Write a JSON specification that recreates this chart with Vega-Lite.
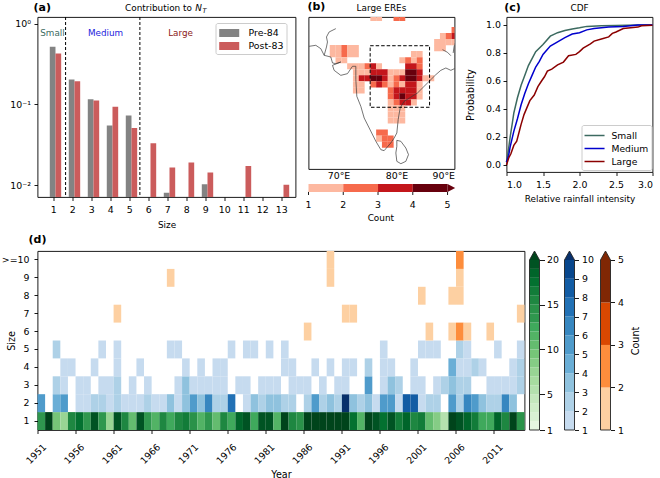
{"$schema":"https://vega.github.io/schema/vega-lite/v6.json","background":"#ffffff","padding":{"left":0.5,"top":0,"right":0,"bottom":0},"spacing":3,"resolve":{"scale":{"color":"independent"}},"config":{"font":"DejaVu Sans","view":{"stroke":"#000","strokeWidth":0.9},"axis":{"domain":false,"grid":false,"tickColor":"#000","tickWidth":0.9,"tickSize":3.5,"labelColor":"#000","labelFontSize":9.4,"labelPadding":2.5,"titleColor":"#000","titleFontSize":8.9,"titleFontWeight":"normal"},"title":{"fontSize":8.9,"fontWeight":"normal","color":"#000","offset":6},"legend":{"title":null,"labelFontSize":9.4,"labelColor":"#000","fillColor":"#fff","strokeColor":"#ccc","cornerRadius":2,"padding":3}},"datasets":{"sizes":[{"period":"Pre-84","size":1,"frac":0.52},{"period":"Pre-84","size":2,"frac":0.205},{"period":"Pre-84","size":3,"frac":0.116},{"period":"Pre-84","size":4,"frac":0.055},{"period":"Pre-84","size":5,"frac":0.073},{"period":"Pre-84","size":7,"frac":0.008},{"period":"Pre-84","size":9,"frac":0.0102},{"period":"Post-83","size":1,"frac":0.43},{"period":"Post-83","size":2,"frac":0.195},{"period":"Post-83","size":3,"frac":0.112},{"period":"Post-83","size":4,"frac":0.094},{"period":"Post-83","size":5,"frac":0.051},{"period":"Post-83","size":6,"frac":0.033},{"period":"Post-83","size":7,"frac":0.0165},{"period":"Post-83","size":8,"frac":0.019},{"period":"Post-83","size":9,"frac":0.0143},{"period":"Post-83","size":11,"frac":0.0172},{"period":"Post-83","size":13,"frac":0.0101}],"cells":[{"lon":76,"lat":30.5,"n":1},{"lon":77,"lat":30.5,"n":1},{"lon":80,"lat":30.5,"n":2},{"lon":81,"lat":30.5,"n":2},{"lon":90,"lat":28.5,"n":2},{"lon":88,"lat":27.5,"n":1},{"lon":89,"lat":27.5,"n":2},{"lon":90,"lat":27.5,"n":3},{"lon":87,"lat":26.5,"n":1},{"lon":88,"lat":26.5,"n":1},{"lon":89,"lat":26.5,"n":1},{"lon":90,"lat":26.5,"n":1},{"lon":87,"lat":25.5,"n":1},{"lon":88,"lat":25.5,"n":1},{"lon":69,"lat":25.5,"n":1},{"lon":70,"lat":25.5,"n":1},{"lon":71,"lat":25.5,"n":2},{"lon":72,"lat":25.5,"n":1},{"lon":73,"lat":25.5,"n":1},{"lon":69,"lat":24.5,"n":1},{"lon":70,"lat":24.5,"n":1},{"lon":71,"lat":24.5,"n":2},{"lon":72,"lat":24.5,"n":1},{"lon":73,"lat":24.5,"n":1},{"lon":83,"lat":24.5,"n":1},{"lon":84,"lat":24.5,"n":1},{"lon":70,"lat":23.5,"n":1},{"lon":71,"lat":23.5,"n":1},{"lon":81,"lat":23.5,"n":1},{"lon":82,"lat":23.5,"n":2},{"lon":83,"lat":23.5,"n":1},{"lon":84,"lat":23.5,"n":2},{"lon":72,"lat":22.5,"n":1},{"lon":73,"lat":22.5,"n":1},{"lon":74,"lat":22.5,"n":1},{"lon":75,"lat":22.5,"n":2},{"lon":76,"lat":22.5,"n":3},{"lon":77,"lat":22.5,"n":1},{"lon":82,"lat":22.5,"n":3},{"lon":83,"lat":22.5,"n":3},{"lon":84,"lat":22.5,"n":2},{"lon":73,"lat":21.5,"n":1},{"lon":74,"lat":21.5,"n":1},{"lon":75,"lat":21.5,"n":1},{"lon":76,"lat":21.5,"n":3},{"lon":77,"lat":21.5,"n":3},{"lon":78,"lat":21.5,"n":3},{"lon":79,"lat":21.5,"n":1},{"lon":80,"lat":21.5,"n":1},{"lon":81,"lat":21.5,"n":1},{"lon":82,"lat":21.5,"n":4},{"lon":83,"lat":21.5,"n":4},{"lon":84,"lat":21.5,"n":3},{"lon":73,"lat":20.5,"n":1},{"lon":74,"lat":20.5,"n":3},{"lon":75,"lat":20.5,"n":3},{"lon":76,"lat":20.5,"n":5},{"lon":77,"lat":20.5,"n":5},{"lon":78,"lat":20.5,"n":3},{"lon":79,"lat":20.5,"n":1},{"lon":80,"lat":20.5,"n":2},{"lon":81,"lat":20.5,"n":3},{"lon":82,"lat":20.5,"n":5},{"lon":83,"lat":20.5,"n":5},{"lon":84,"lat":20.5,"n":3},{"lon":85,"lat":20.5,"n":1},{"lon":86,"lat":20.5,"n":1},{"lon":73,"lat":19.5,"n":1},{"lon":74,"lat":19.5,"n":1},{"lon":76,"lat":19.5,"n":2},{"lon":77,"lat":19.5,"n":3},{"lon":78,"lat":19.5,"n":2},{"lon":79,"lat":19.5,"n":1},{"lon":80,"lat":19.5,"n":2},{"lon":81,"lat":19.5,"n":1},{"lon":82,"lat":19.5,"n":3},{"lon":83,"lat":19.5,"n":3},{"lon":84,"lat":19.5,"n":1},{"lon":73,"lat":18.5,"n":1},{"lon":74,"lat":18.5,"n":1},{"lon":79,"lat":18.5,"n":2},{"lon":80,"lat":18.5,"n":3},{"lon":81,"lat":18.5,"n":3},{"lon":82,"lat":18.5,"n":3},{"lon":83,"lat":18.5,"n":3},{"lon":84,"lat":18.5,"n":1},{"lon":79,"lat":17.5,"n":2},{"lon":80,"lat":17.5,"n":3},{"lon":81,"lat":17.5,"n":5},{"lon":82,"lat":17.5,"n":3},{"lon":83,"lat":17.5,"n":3},{"lon":84,"lat":17.5,"n":1},{"lon":79,"lat":16.5,"n":1},{"lon":80,"lat":16.5,"n":2},{"lon":81,"lat":16.5,"n":3},{"lon":82,"lat":16.5,"n":3},{"lon":83,"lat":16.5,"n":1},{"lon":79,"lat":15.5,"n":1},{"lon":80,"lat":15.5,"n":1},{"lon":81,"lat":15.5,"n":1},{"lon":79,"lat":14.5,"n":1},{"lon":80,"lat":14.5,"n":1},{"lon":81,"lat":14.5,"n":1},{"lon":79,"lat":13.5,"n":1},{"lon":80,"lat":13.5,"n":1},{"lon":81,"lat":13.5,"n":1},{"lon":77,"lat":11.5,"n":2},{"lon":78,"lat":11.5,"n":2},{"lon":77,"lat":10.5,"n":1},{"lon":78,"lat":10.5,"n":2},{"lon":79,"lat":10.5,"n":2},{"lon":78,"lat":9.5,"n":2},{"lon":79,"lat":9.5,"n":2}],"coast":[{"seg":"a","o":1,"lon":69.54,"lat":28.73},{"seg":"a","o":2,"lon":68.39,"lat":28.18},{"seg":"a","o":3,"lon":67.93,"lat":27.35},{"seg":"a","o":4,"lon":68.1,"lat":26.52},{"seg":"a","o":5,"lon":67.93,"lat":25.69},{"seg":"a","o":6,"lon":67.53,"lat":24.31},{"seg":"b","o":1,"lon":64.94,"lat":25.8},{"seg":"b","o":2,"lon":66.09,"lat":25.97},{"seg":"b","o":3,"lon":66.95,"lat":25.41},{"seg":"b","o":4,"lon":67.53,"lat":24.31},{"seg":"b","o":5,"lon":68.68,"lat":24.03},{"seg":"b","o":6,"lon":68.97,"lat":23.04},{"seg":"b","o":7,"lon":69.54,"lat":22.93},{"seg":"b","o":8,"lon":70.4,"lat":23.2},{"seg":"b","o":9,"lon":68.97,"lat":22.65},{"seg":"b","o":10,"lon":69.25,"lat":21.82},{"seg":"b","o":11,"lon":70.4,"lat":20.99},{"seg":"b","o":12,"lon":71.55,"lat":21.27},{"seg":"b","o":13,"lon":72.41,"lat":22.49},{"seg":"b","o":14,"lon":72.99,"lat":22.49},{"seg":"b","o":15,"lon":72.99,"lat":20.28},{"seg":"b","o":16,"lon":73.16,"lat":17.51},{"seg":"b","o":17,"lon":73.85,"lat":15.86},{"seg":"b","o":18,"lon":74.43,"lat":13.92},{"seg":"b","o":19,"lon":75.29,"lat":12.27},{"seg":"b","o":20,"lon":76.44,"lat":10.06},{"seg":"b","o":21,"lon":77.3,"lat":8.67},{"seg":"b","o":22,"lon":77.87,"lat":8.51},{"seg":"b","o":23,"lon":79.02,"lat":9.78},{"seg":"b","o":24,"lon":79.6,"lat":10.61},{"seg":"b","o":25,"lon":80.06,"lat":11.44},{"seg":"b","o":26,"lon":80.29,"lat":13.65},{"seg":"b","o":27,"lon":80.63,"lat":15.58},{"seg":"b","o":28,"lon":81.32,"lat":16.69},{"seg":"b","o":29,"lon":83.62,"lat":18.07},{"seg":"b","o":30,"lon":85.34,"lat":19.72},{"seg":"b","o":31,"lon":86.78,"lat":21.1},{"seg":"b","o":32,"lon":87.64,"lat":21.82},{"seg":"b","o":33,"lon":88.51,"lat":22.21},{"seg":"b","o":34,"lon":89.37,"lat":21.82},{"seg":"b","o":35,"lon":90.23,"lat":22.21},{"seg":"c","o":1,"lon":80.06,"lat":10.22},{"seg":"c","o":2,"lon":80.75,"lat":10.06},{"seg":"c","o":3,"lon":81.61,"lat":8.95},{"seg":"c","o":4,"lon":82.07,"lat":7.85},{"seg":"c","o":5,"lon":81.61,"lat":6.74},{"seg":"c","o":6,"lon":80.75,"lat":6.35},{"seg":"c","o":7,"lon":80.06,"lat":6.74},{"seg":"c","o":8,"lon":79.89,"lat":8.12},{"seg":"c","o":9,"lon":80.06,"lat":9.23},{"seg":"c","o":10,"lon":80.06,"lat":10.22},{"seg":"d","o":1,"lon":87.93,"lat":25.25},{"seg":"d","o":2,"lon":88.79,"lat":24.81},{"seg":"d","o":3,"lon":89.37,"lat":24.25},{"seg":"e","o":1,"lon":89.77,"lat":24.7},{"seg":"e","o":2,"lon":89.94,"lat":25.8},{"seg":"e","o":3,"lon":90.11,"lat":26.35}],"cdf":[{"g":"Small","x":1.0,"p":0.02},{"g":"Small","x":1.03,"p":0.12},{"g":"Small","x":1.05,"p":0.2},{"g":"Small","x":1.08,"p":0.3},{"g":"Small","x":1.1,"p":0.37},{"g":"Small","x":1.15,"p":0.48},{"g":"Small","x":1.2,"p":0.57},{"g":"Small","x":1.25,"p":0.64},{"g":"Small","x":1.3,"p":0.71},{"g":"Small","x":1.35,"p":0.76},{"g":"Small","x":1.4,"p":0.81},{"g":"Small","x":1.5,"p":0.86},{"g":"Small","x":1.6,"p":0.92},{"g":"Small","x":1.7,"p":0.945},{"g":"Small","x":1.8,"p":0.96},{"g":"Small","x":1.9,"p":0.972},{"g":"Small","x":2.0,"p":0.98},{"g":"Small","x":2.1,"p":0.99},{"g":"Small","x":2.3,"p":0.995},{"g":"Small","x":2.5,"p":0.997},{"g":"Small","x":2.8,"p":1},{"g":"Small","x":3,"p":1},{"g":"Medium","x":1.0,"p":0.02},{"g":"Medium","x":1.03,"p":0.07},{"g":"Medium","x":1.05,"p":0.13},{"g":"Medium","x":1.1,"p":0.24},{"g":"Medium","x":1.15,"p":0.33},{"g":"Medium","x":1.2,"p":0.43},{"g":"Medium","x":1.25,"p":0.51},{"g":"Medium","x":1.3,"p":0.58},{"g":"Medium","x":1.35,"p":0.64},{"g":"Medium","x":1.4,"p":0.7},{"g":"Medium","x":1.45,"p":0.74},{"g":"Medium","x":1.5,"p":0.79},{"g":"Medium","x":1.6,"p":0.85},{"g":"Medium","x":1.7,"p":0.88},{"g":"Medium","x":1.8,"p":0.91},{"g":"Medium","x":1.9,"p":0.935},{"g":"Medium","x":2.0,"p":0.945},{"g":"Medium","x":2.1,"p":0.965},{"g":"Medium","x":2.2,"p":0.975},{"g":"Medium","x":2.4,"p":0.985},{"g":"Medium","x":2.6,"p":0.99},{"g":"Medium","x":2.8,"p":1},{"g":"Medium","x":3,"p":1},{"g":"Large","x":1.0,"p":0},{"g":"Large","x":1.03,"p":0.05},{"g":"Large","x":1.06,"p":0.08},{"g":"Large","x":1.1,"p":0.14},{"g":"Large","x":1.14,"p":0.17},{"g":"Large","x":1.18,"p":0.25},{"g":"Large","x":1.2,"p":0.29},{"g":"Large","x":1.24,"p":0.36},{"g":"Large","x":1.28,"p":0.41},{"g":"Large","x":1.32,"p":0.46},{"g":"Large","x":1.38,"p":0.5},{"g":"Large","x":1.43,"p":0.56},{"g":"Large","x":1.48,"p":0.6},{"g":"Large","x":1.52,"p":0.63},{"g":"Large","x":1.56,"p":0.67},{"g":"Large","x":1.62,"p":0.685},{"g":"Large","x":1.7,"p":0.715},{"g":"Large","x":1.78,"p":0.735},{"g":"Large","x":1.85,"p":0.78},{"g":"Large","x":1.95,"p":0.79},{"g":"Large","x":2.0,"p":0.81},{"g":"Large","x":2.05,"p":0.835},{"g":"Large","x":2.15,"p":0.865},{"g":"Large","x":2.2,"p":0.885},{"g":"Large","x":2.3,"p":0.9},{"g":"Large","x":2.4,"p":0.915},{"g":"Large","x":2.45,"p":0.94},{"g":"Large","x":2.5,"p":0.95},{"g":"Large","x":2.6,"p":0.975},{"g":"Large","x":2.7,"p":0.98},{"g":"Large","x":2.8,"p":0.985},{"g":"Large","x":2.85,"p":0.995},{"g":"Large","x":3,"p":0.998}],"green":[{"year":1951,"size":"1","n":13},{"year":1952,"size":"1","n":20},{"year":1953,"size":"1","n":9},{"year":1954,"size":"1","n":7},{"year":1955,"size":"1","n":15},{"year":1956,"size":"1","n":17},{"year":1957,"size":"1","n":13},{"year":1958,"size":"1","n":19},{"year":1959,"size":"1","n":13},{"year":1960,"size":"1","n":7},{"year":1961,"size":"1","n":19},{"year":1962,"size":"1","n":15},{"year":1963,"size":"1","n":10},{"year":1964,"size":"1","n":19},{"year":1965,"size":"1","n":13},{"year":1966,"size":"1","n":11},{"year":1967,"size":"1","n":15},{"year":1968,"size":"1","n":12},{"year":1969,"size":"1","n":15},{"year":1970,"size":"1","n":16},{"year":1971,"size":"1","n":14},{"year":1972,"size":"1","n":11},{"year":1973,"size":"1","n":13},{"year":1974,"size":"1","n":10},{"year":1975,"size":"1","n":15},{"year":1976,"size":"1","n":12},{"year":1977,"size":"1","n":18},{"year":1978,"size":"1","n":19},{"year":1979,"size":"1","n":12},{"year":1980,"size":"1","n":19},{"year":1981,"size":"1","n":19},{"year":1982,"size":"1","n":11},{"year":1983,"size":"1","n":20},{"year":1984,"size":"1","n":15},{"year":1985,"size":"1","n":14},{"year":1986,"size":"1","n":20},{"year":1987,"size":"1","n":20},{"year":1988,"size":"1","n":20},{"year":1989,"size":"1","n":20},{"year":1990,"size":"1","n":20},{"year":1991,"size":"1","n":20},{"year":1992,"size":"1","n":17},{"year":1993,"size":"1","n":11},{"year":1994,"size":"1","n":20},{"year":1995,"size":"1","n":19},{"year":1996,"size":"1","n":17},{"year":1997,"size":"1","n":19},{"year":1998,"size":"1","n":16},{"year":1999,"size":"1","n":18},{"year":2000,"size":"1","n":15},{"year":2001,"size":"1","n":16},{"year":2002,"size":"1","n":10},{"year":2003,"size":"1","n":8},{"year":2004,"size":"1","n":5},{"year":2005,"size":"1","n":20},{"year":2006,"size":"1","n":19},{"year":2007,"size":"1","n":18},{"year":2008,"size":"1","n":16},{"year":2009,"size":"1","n":12},{"year":2010,"size":"1","n":12},{"year":2011,"size":"1","n":18},{"year":2012,"size":"1","n":15},{"year":2013,"size":"1","n":20},{"year":2014,"size":"1","n":14}],"blue":[{"year":1951,"size":"2","n":5},{"year":1953,"size":"2","n":4},{"year":1954,"size":"2","n":5},{"year":1956,"size":"2","n":1},{"year":1957,"size":"2","n":1},{"year":1958,"size":"2","n":2},{"year":1959,"size":"2","n":2},{"year":1960,"size":"2","n":1},{"year":1961,"size":"2","n":2},{"year":1962,"size":"2","n":1},{"year":1963,"size":"2","n":1},{"year":1964,"size":"2","n":1},{"year":1965,"size":"2","n":2},{"year":1966,"size":"2","n":1},{"year":1967,"size":"2","n":1},{"year":1968,"size":"2","n":3},{"year":1969,"size":"2","n":1},{"year":1970,"size":"2","n":3},{"year":1971,"size":"2","n":5},{"year":1972,"size":"2","n":3},{"year":1973,"size":"2","n":6},{"year":1974,"size":"2","n":2},{"year":1975,"size":"2","n":2},{"year":1976,"size":"2","n":7},{"year":1978,"size":"2","n":1},{"year":1979,"size":"2","n":3},{"year":1980,"size":"2","n":2},{"year":1981,"size":"2","n":3},{"year":1982,"size":"2","n":3},{"year":1983,"size":"2","n":2},{"year":1984,"size":"2","n":2},{"year":1986,"size":"2","n":2},{"year":1987,"size":"2","n":5},{"year":1988,"size":"2","n":2},{"year":1989,"size":"2","n":3},{"year":1990,"size":"2","n":2},{"year":1991,"size":"2","n":10},{"year":1992,"size":"2","n":3},{"year":1993,"size":"2","n":2},{"year":1994,"size":"2","n":3},{"year":1995,"size":"2","n":1},{"year":1996,"size":"2","n":5},{"year":1997,"size":"2","n":5},{"year":1998,"size":"2","n":1},{"year":1999,"size":"2","n":8},{"year":2000,"size":"2","n":8},{"year":2001,"size":"2","n":1},{"year":2002,"size":"2","n":2},{"year":2003,"size":"2","n":2},{"year":2005,"size":"2","n":5},{"year":2006,"size":"2","n":2},{"year":2007,"size":"2","n":6},{"year":2008,"size":"2","n":5},{"year":2009,"size":"2","n":3},{"year":2010,"size":"2","n":2},{"year":2011,"size":"2","n":2},{"year":2012,"size":"2","n":6},{"year":2013,"size":"2","n":3},{"year":1953,"size":"3","n":2},{"year":1954,"size":"3","n":1},{"year":1956,"size":"3","n":1},{"year":1957,"size":"3","n":1},{"year":1959,"size":"3","n":1},{"year":1960,"size":"3","n":1},{"year":1961,"size":"3","n":2},{"year":1963,"size":"3","n":1},{"year":1965,"size":"3","n":1},{"year":1969,"size":"3","n":1},{"year":1970,"size":"3","n":3},{"year":1971,"size":"3","n":1},{"year":1972,"size":"3","n":1},{"year":1973,"size":"3","n":1},{"year":1974,"size":"3","n":1},{"year":1975,"size":"3","n":1},{"year":1977,"size":"3","n":1},{"year":1978,"size":"3","n":1},{"year":1980,"size":"3","n":1},{"year":1981,"size":"3","n":1},{"year":1982,"size":"3","n":1},{"year":1984,"size":"3","n":1},{"year":1985,"size":"3","n":1},{"year":1986,"size":"3","n":1},{"year":1988,"size":"3","n":1},{"year":1990,"size":"3","n":1},{"year":1991,"size":"3","n":1},{"year":1994,"size":"3","n":5},{"year":1996,"size":"3","n":1},{"year":1997,"size":"3","n":3},{"year":1998,"size":"3","n":2},{"year":2000,"size":"3","n":1},{"year":2001,"size":"3","n":1},{"year":2003,"size":"3","n":1},{"year":2004,"size":"3","n":2},{"year":2005,"size":"3","n":3},{"year":2006,"size":"3","n":2},{"year":2007,"size":"3","n":2},{"year":2010,"size":"3","n":1},{"year":2011,"size":"3","n":1},{"year":2012,"size":"3","n":1},{"year":2013,"size":"3","n":1},{"year":2014,"size":"3","n":2},{"year":1954,"size":"4","n":1},{"year":1955,"size":"4","n":1},{"year":1958,"size":"4","n":1},{"year":1961,"size":"4","n":1},{"year":1964,"size":"4","n":1},{"year":1970,"size":"4","n":1},{"year":1972,"size":"4","n":1},{"year":1974,"size":"4","n":1},{"year":1975,"size":"4","n":1},{"year":1983,"size":"4","n":1},{"year":1984,"size":"4","n":1},{"year":1987,"size":"4","n":1},{"year":1989,"size":"4","n":1},{"year":1991,"size":"4","n":1},{"year":1992,"size":"4","n":1},{"year":1994,"size":"4","n":2},{"year":1996,"size":"4","n":1},{"year":1997,"size":"4","n":1},{"year":2000,"size":"4","n":1},{"year":2005,"size":"4","n":4},{"year":2006,"size":"4","n":1},{"year":2007,"size":"4","n":1},{"year":2008,"size":"4","n":2},{"year":2009,"size":"4","n":1},{"year":2013,"size":"4","n":1},{"year":2014,"size":"4","n":2},{"year":1953,"size":"5","n":2},{"year":1959,"size":"5","n":1},{"year":1961,"size":"5","n":1},{"year":1968,"size":"5","n":1},{"year":1969,"size":"5","n":1},{"year":1976,"size":"5","n":1},{"year":1978,"size":"5","n":1},{"year":1979,"size":"5","n":1},{"year":1981,"size":"5","n":1},{"year":1983,"size":"5","n":1},{"year":1996,"size":"5","n":1},{"year":2001,"size":"5","n":1},{"year":2002,"size":"5","n":1},{"year":2003,"size":"5","n":1},{"year":2006,"size":"5","n":2},{"year":2007,"size":"5","n":1},{"year":2011,"size":"5","n":1},{"year":2014,"size":"5","n":1}],"orange":[{"year":1986,"size":"6","n":1},{"year":2002,"size":"6","n":1},{"year":2005,"size":"6","n":1},{"year":2006,"size":"6","n":2},{"year":2007,"size":"6","n":1},{"year":2010,"size":"6","n":1},{"year":1961,"size":"7","n":1},{"year":1991,"size":"7","n":1},{"year":1992,"size":"7","n":1},{"year":2014,"size":"7","n":1},{"year":2001,"size":"8","n":1},{"year":2005,"size":"8","n":1},{"year":2006,"size":"8","n":1},{"year":1968,"size":"9","n":1},{"year":1989,"size":"9","n":1},{"year":2006,"size":"9","n":1},{"year":1989,"size":">=10","n":1},{"year":2006,"size":">=10","n":2}]},"vconcat":[{"hconcat":[{"width":258,"height":180,"layer":[{"data":{"name":"sizes"},"mark":{"type":"bar","clip":true},"encoding":{"x":{"field":"size","type":"ordinal","title":"Size","scale":{"domain":[1,2,3,4,5,6,7,8,9,10,11,12,13],"paddingInner":0,"paddingOuter":0.289,"align":0.62},"axis":{"labelAngle":0,"labelPadding":5,"titlePadding":6.5}},"xOffset":{"field":"period","scale":{"domain":["Pre-84","Post-83"],"paddingInner":0,"paddingOuter":0.667,"align":0.72}},"y":{"field":"frac","type":"quantitative","stack":null,"title":null,"scale":{"type":"log","domain":[0.0071,1.22],"nice":false},"axis":{"values":[1,0.1,0.01],"labelPadding":3.5,"labelExpr":"datum.value==1?'10⁰':datum.value==0.1?'10⁻¹':'10⁻²'"}},"color":{"field":"period","type":"nominal","scale":{"domain":["Pre-84","Post-83"],"range":["#838383","#cb5c5c"]},"legend":{"orient":"none","legendX":178,"legendY":6,"symbolType":"M-0.9,-0.57H1.96V0.57H-0.9Z","symbolSize":196,"symbolStrokeWidth":0,"symbolOpacity":1,"labelOffset":16,"rowPadding":1}}}},{"data":{"values":[{"x":1.62},{"x":5.53}]},"mark":{"type":"rule","color":"#000","strokeDash":[3,2],"strokeWidth":1},"encoding":{"x":{"field":"x","type":"quantitative","scale":{"domain":[0.142,13.72],"nice":false},"axis":null}}},{"data":{"values":[{"t":"Small","x":0.93,"y":0.766},{"t":"Medium","x":3.72,"y":0.766},{"t":"Large","x":7.67,"y":0.766}]},"mark":{"type":"text","fontSize":8.8},"encoding":{"x":{"field":"x","type":"quantitative","scale":{"domain":[0.142,13.72],"nice":false},"axis":null},"y":{"field":"y","type":"quantitative"},"text":{"field":"t"},"color":{"field":"t","type":"nominal","scale":{"domain":["Small","Medium","Large"],"range":["#3c6b62","#2222dd","#8b2020"]},"legend":null}}},{"data":{"values":[{"t":"(a)","x":-0.07,"y":1.6}]},"mark":{"type":"text","fontSize":11,"fontWeight":"bold","align":"left","color":"#000"},"encoding":{"x":{"field":"x","type":"quantitative","scale":{"domain":[0.142,13.72],"nice":false},"axis":null},"y":{"field":"y","type":"quantitative"},"text":{"field":"t"}}},{"data":{"values":[{"t":"Contribution to","x":6.51,"y":1.57}]},"mark":{"type":"text","fontSize":8.9,"color":"#000"},"encoding":{"x":{"field":"x","type":"quantitative","scale":{"domain":[0.142,13.72],"nice":false},"axis":null},"y":{"field":"y","type":"quantitative"},"text":{"field":"t"}}},{"data":{"values":[{"t":"N","x":8.62,"y":1.57}]},"mark":{"type":"text","fontSize":8.9,"fontStyle":"italic","color":"#000"},"encoding":{"x":{"field":"x","type":"quantitative","scale":{"domain":[0.142,13.72],"nice":false},"axis":null},"y":{"field":"y","type":"quantitative"},"text":{"field":"t"}}},{"data":{"values":[{"t":"T","x":8.93,"y":1.46}]},"mark":{"type":"text","fontSize":6.5,"fontStyle":"italic","color":"#000"},"encoding":{"x":{"field":"x","type":"quantitative","scale":{"domain":[0.142,13.72],"nice":false},"axis":null},"y":{"field":"y","type":"quantitative"},"text":{"field":"t"}}}],"resolve":{"scale":{"x":"independent","color":"independent"}}},{"width":13,"height":10,"data":{"values":[]},"mark":"point","encoding":{},"view":{"stroke":null}},{"width":146,"height":152,"layer":[{"layer":[{"data":{"name":"cells"},"mark":{"type":"rect","width":5.9,"height":6.1,"clip":true},"encoding":{"x":{"field":"lon","type":"quantitative","title":null,"scale":{"domain":[64.83,90],"nice":false},"axis":{"values":[70,80,90],"tickSize":0,"labelPadding":2,"labelExpr":"datum.value+'°E'"}},"y":{"field":"lat","type":"quantitative","scale":{"domain":[5.47,30.66],"nice":false},"axis":null},"color":{"field":"n","type":"quantitative","scale":{"type":"threshold","domain":[2,3,4],"range":["#fdb8a0","#f66a4c","#c3161b","#67000d"]},"legend":null}}},{"data":{"name":"coast"},"mark":{"type":"line","clip":true,"color":"#3a3a3a","strokeWidth":0.7},"encoding":{"x":{"field":"lon","type":"quantitative"},"y":{"field":"lat","type":"quantitative"},"detail":{"field":"seg"},"order":{"field":"o"}}},{"data":{"values":[{"lon":75.46,"lon2":85.7,"lat":15.7,"lat2":25.9}]},"mark":{"type":"rect","fillOpacity":0,"stroke":"#000","strokeWidth":1,"strokeDash":[3.5,2]},"encoding":{"x":{"field":"lon","type":"quantitative"},"x2":{"field":"lon2"},"y":{"field":"lat","type":"quantitative"},"y2":{"field":"lat2"}}},{"data":{"values":[{"t":"(b)","lon":64.65,"lat":32.29}]},"mark":{"type":"text","fontSize":11,"fontWeight":"bold","align":"left","color":"#000"},"encoding":{"x":{"field":"lon","type":"quantitative"},"y":{"field":"lat","type":"quantitative"},"text":{"field":"t"}}},{"data":{"values":[{"t":"Large EREs","lon":77.4,"lat":32.1}]},"mark":{"type":"text","fontSize":8.9,"color":"#000"},"encoding":{"x":{"field":"lon","type":"quantitative"},"y":{"field":"lat","type":"quantitative"},"text":{"field":"t"}}}]},{"layer":[{"data":{"values":[{"lo":1,"hi":2,"n":1},{"lo":2,"hi":3,"n":2},{"lo":3,"hi":4,"n":3},{"lo":4,"hi":5,"n":4}]},"mark":"rect","encoding":{"x":{"field":"lo","type":"quantitative","scale":{"domain":[1,5.2],"nice":false},"axis":null},"x2":{"field":"hi"},"y":{"datum":-0.0987,"type":"quantitative","scale":{"domain":[0,1],"nice":false},"axis":null},"y2":{"datum":-0.151},"color":{"field":"n","type":"quantitative","scale":{"type":"threshold","domain":[2,3,4],"range":["#fdb8a0","#f66a4c","#c3161b","#67000d"]},"legend":null}}},{"data":{"values":[{"v":5,"a":-0.0987,"b":-0.151},{"v":5.22,"a":-0.125,"b":-0.125}]},"mark":{"type":"area","color":"#67000d"},"encoding":{"x":{"field":"v","type":"quantitative"},"y":{"field":"a","type":"quantitative"},"y2":{"field":"b"}}},{"data":{"values":[{"v":1},{"v":2},{"v":3},{"v":4},{"v":5}]},"mark":{"type":"rule","color":"#000","strokeWidth":0.9},"encoding":{"x":{"field":"v","type":"quantitative"},"y":{"datum":-0.151},"y2":{"datum":-0.171}}},{"data":{"values":[{"v":1},{"v":2},{"v":3},{"v":4},{"v":5}]},"mark":{"type":"text","fontSize":9.4,"color":"#000"},"encoding":{"x":{"field":"v","type":"quantitative"},"y":{"datum":-0.237},"text":{"field":"v"}}},{"data":{"values":[{"t":"Count","v":3.08}]},"mark":{"type":"text","fontSize":8.9,"color":"#000"},"encoding":{"x":{"field":"v","type":"quantitative"},"y":{"datum":-0.322},"text":{"field":"t"}}}]}],"resolve":{"scale":{"x":"independent","y":"independent"}}},{"width":52,"height":10,"data":{"values":[]},"mark":"point","encoding":{},"view":{"stroke":null}},{"width":146,"height":155,"layer":[{"data":{"name":"cdf"},"mark":{"type":"line","strokeWidth":1.5},"encoding":{"x":{"field":"x","type":"quantitative","title":"Relative rainfall intensity","scale":{"domain":[1,3],"nice":false},"axis":{"values":[1,1.5,2,2.5,3],"tickCount":20,"format":".1f","labelPadding":5,"titlePadding":5.5}},"y":{"field":"p","type":"quantitative","title":"Probability","scale":{"domain":[-0.05,1.057],"nice":false},"axis":{"values":[0,0.2,0.4,0.6,0.8,1],"tickCount":20,"format":".1f","titleFontSize":9.8,"titlePadding":10}},"color":{"field":"g","type":"nominal","sort":null,"scale":{"domain":["Small","Medium","Large"],"range":["#3c6a60","#0000cd","#8b0000"]},"legend":{"orient":"none","legendX":75,"legendY":108,"symbolType":"M-1.15,0H1.93","symbolSize":169,"symbolStrokeWidth":1.5,"labelFontSize":9.2,"labelOffset":12,"rowPadding":0}}}},{"data":{"values":[{"t":"(c)","x":0.97,"y":1.123}]},"mark":{"type":"text","fontSize":11,"fontWeight":"bold","align":"left","color":"#000"},"encoding":{"x":{"field":"x","type":"quantitative"},"y":{"field":"y","type":"quantitative"},"text":{"field":"t"}}},{"data":{"values":[{"t":"CDF","x":2,"y":1.121}]},"mark":{"type":"text","fontSize":8.9,"color":"#000"},"encoding":{"x":{"field":"x","type":"quantitative"},"y":{"field":"y","type":"quantitative"},"text":{"field":"t"}}}]}],"spacing":0,"bounds":"flush","resolve":{"scale":{"color":"independent"}}},{"hconcat":[{"width":487,"height":179,"title":{"text":"(d)","anchor":"start","frame":"group","dx":-9,"fontWeight":"bold","fontSize":11,"offset":6},"layer":[{"data":{"name":"green"},"mark":"rect","encoding":{"x":{"field":"year","type":"ordinal","title":"Year","scale":{"paddingInner":0,"paddingOuter":0},"axis":{"values":[1951,1956,1961,1966,1971,1976,1981,1986,1991,1996,2001,2006,2011],"bandPosition":0,"labelAngle":-45,"labelAlign":"center","labelBaseline":"middle","labelPadding":20,"labelOffset":-5,"titleFontSize":9.6,"titlePadding":4}},"y":{"field":"size","type":"ordinal","title":"Size","scale":{"domain":[">=10","9","8","7","6","5","4","3","2","1"],"paddingInner":0,"paddingOuter":0},"axis":{"titleFontSize":9.6,"labelOverlap":false,"labelPadding":5,"titlePadding":-15.5}},"color":{"field":"n","type":"quantitative","legend":null,"scale":{"type":"threshold","domain":[2,3,4,5,6,7,8,9,10,11,12,13,14,15,16,17,18,19,20],"range":["#e5f5e0","#d9f0d3","#cfedc8","#c4e8bd","#b4e1ae","#a7dca0","#98d594","#85cc85","#76c578","#64bc6f","#52b365","#3fa95c","#2f974e","#2a9249","#1e8741","#127c39","#037130","#00652a","#005323","#00441b"]}}}},{"data":{"name":"blue"},"mark":"rect","encoding":{"x":{"field":"year","type":"ordinal"},"y":{"field":"size","type":"ordinal"},"color":{"field":"n","type":"quantitative","legend":null,"scale":{"type":"threshold","domain":[2,3,4,5,6,7,8,9,10],"range":["#c6dbef","#aed1e7","#8fc2de","#6aaed6","#4f9bcb","#3787c0","#2271b5","#125ca4","#08478d","#08306b"]}}}},{"data":{"name":"orange"},"mark":"rect","encoding":{"x":{"field":"year","type":"ordinal"},"y":{"field":"size","type":"ordinal"},"color":{"field":"n","type":"quantitative","legend":null,"scale":{"type":"threshold","domain":[2,3,4,5],"range":["#fdd0a2","#fd8d3c","#d94801","#7f2704","#7f2704"]}}}}],"resolve":{"scale":{"color":"independent"}}},{"width":5,"height":10,"data":{"values":[]},"mark":"point","encoding":{},"view":{"stroke":null}},{"width":10,"height":179,"view":{"stroke":null},"layer":[{"data":{"values":[{"lo":1,"hi":2},{"lo":2,"hi":3},{"lo":3,"hi":4},{"lo":4,"hi":5},{"lo":5,"hi":6},{"lo":6,"hi":7},{"lo":7,"hi":8},{"lo":8,"hi":9},{"lo":9,"hi":10},{"lo":10,"hi":11},{"lo":11,"hi":12},{"lo":12,"hi":13},{"lo":13,"hi":14},{"lo":14,"hi":15},{"lo":15,"hi":16},{"lo":16,"hi":17},{"lo":17,"hi":18},{"lo":18,"hi":19},{"lo":19,"hi":20}]},"mark":"rect","encoding":{"y":{"field":"lo","type":"quantitative","title":null,"scale":{"domain":[1,21],"nice":false},"axis":{"orient":"right","values":[1,5,10,15,20],"tickCount":20,"format":"d","tickSize":5,"labelPadding":2}},"y2":{"field":"hi"},"color":{"field":"lo","type":"quantitative","legend":null,"scale":{"type":"threshold","domain":[2,3,4,5,6,7,8,9,10,11,12,13,14,15,16,17,18,19,20],"range":["#e5f5e0","#d9f0d3","#cfedc8","#c4e8bd","#b4e1ae","#a7dca0","#98d594","#85cc85","#76c578","#64bc6f","#52b365","#3fa95c","#2f974e","#2a9249","#1e8741","#127c39","#037130","#00652a","#005323","#00441b"]}}}},{"data":{"values":[{"u":0,"a":20,"b":20},{"u":0.5,"a":21,"b":20},{"u":1,"a":20,"b":20}]},"mark":{"type":"area","color":"#00441b"},"encoding":{"x":{"field":"u","type":"quantitative","scale":{"domain":[0,1],"nice":false},"axis":null},"y":{"field":"a","type":"quantitative"},"y2":{"field":"b"}}},{"data":{"values":[{"o":1,"u":0,"a":1},{"o":2,"u":0,"a":20},{"o":3,"u":0.5,"a":21},{"o":4,"u":1,"a":20},{"o":5,"u":1,"a":1},{"o":6,"u":0,"a":1}]},"mark":{"type":"line","color":"#222","strokeWidth":0.9},"encoding":{"x":{"field":"u","type":"quantitative"},"y":{"field":"a","type":"quantitative"},"order":{"field":"o"}}}]},{"width":25,"height":10,"data":{"values":[]},"mark":"point","encoding":{},"view":{"stroke":null}},{"width":10,"height":179,"view":{"stroke":null},"layer":[{"data":{"values":[{"lo":1,"hi":2},{"lo":2,"hi":3},{"lo":3,"hi":4},{"lo":4,"hi":5},{"lo":5,"hi":6},{"lo":6,"hi":7},{"lo":7,"hi":8},{"lo":8,"hi":9},{"lo":9,"hi":10}]},"mark":"rect","encoding":{"y":{"field":"lo","type":"quantitative","title":null,"scale":{"domain":[1,10.47],"nice":false},"axis":{"orient":"right","values":[1,2,3,4,5,6,7,8,9,10],"tickCount":20,"format":"d","tickSize":4,"labelPadding":3}},"y2":{"field":"hi"},"color":{"field":"lo","type":"quantitative","legend":null,"scale":{"type":"threshold","domain":[2,3,4,5,6,7,8,9,10],"range":["#c6dbef","#aed1e7","#8fc2de","#6aaed6","#4f9bcb","#3787c0","#2271b5","#125ca4","#08478d","#08306b"]}}}},{"data":{"values":[{"u":0,"a":10,"b":10},{"u":0.5,"a":10.47,"b":10},{"u":1,"a":10,"b":10}]},"mark":{"type":"area","color":"#08306b"},"encoding":{"x":{"field":"u","type":"quantitative","scale":{"domain":[0,1],"nice":false},"axis":null},"y":{"field":"a","type":"quantitative"},"y2":{"field":"b"}}},{"data":{"values":[{"o":1,"u":0,"a":1},{"o":2,"u":0,"a":10},{"o":3,"u":0.5,"a":10.47},{"o":4,"u":1,"a":10},{"o":5,"u":1,"a":1},{"o":6,"u":0,"a":1}]},"mark":{"type":"line","color":"#222","strokeWidth":0.9},"encoding":{"x":{"field":"u","type":"quantitative"},"y":{"field":"a","type":"quantitative"},"order":{"field":"o"}}}]},{"width":26,"height":10,"data":{"values":[]},"mark":"point","encoding":{},"view":{"stroke":null}},{"width":10,"height":179,"view":{"stroke":null},"layer":[{"data":{"values":[{"lo":1,"hi":2},{"lo":2,"hi":3},{"lo":3,"hi":4},{"lo":4,"hi":5}]},"mark":"rect","encoding":{"y":{"field":"lo","type":"quantitative","scale":{"domain":[1,5.21],"nice":false},"axis":{"orient":"right","values":[1,2,3,4,5],"tickCount":20,"format":"d","tickSize":4,"labelPadding":3,"title":"Count","titleFontSize":9.6,"titleAngle":270,"titlePadding":17}},"y2":{"field":"hi"},"color":{"field":"lo","type":"quantitative","legend":null,"scale":{"type":"threshold","domain":[2,3,4],"range":["#fdd0a2","#fd8d3c","#d94801","#7f2704"]}}}},{"data":{"values":[{"u":0,"a":5,"b":5},{"u":0.5,"a":5.21,"b":5},{"u":1,"a":5,"b":5}]},"mark":{"type":"area","color":"#7f2704"},"encoding":{"x":{"field":"u","type":"quantitative","scale":{"domain":[0,1],"nice":false},"axis":null},"y":{"field":"a","type":"quantitative"},"y2":{"field":"b"}}},{"data":{"values":[{"o":1,"u":0,"a":1},{"o":2,"u":0,"a":5},{"o":3,"u":0.5,"a":5.21},{"o":4,"u":1,"a":5},{"o":5,"u":1,"a":1},{"o":6,"u":0,"a":1}]},"mark":{"type":"line","color":"#222","strokeWidth":0.9},"encoding":{"x":{"field":"u","type":"quantitative"},"y":{"field":"a","type":"quantitative"},"order":{"field":"o"}}}]}],"spacing":0,"bounds":"flush","resolve":{"scale":{"color":"independent"}}}]}
